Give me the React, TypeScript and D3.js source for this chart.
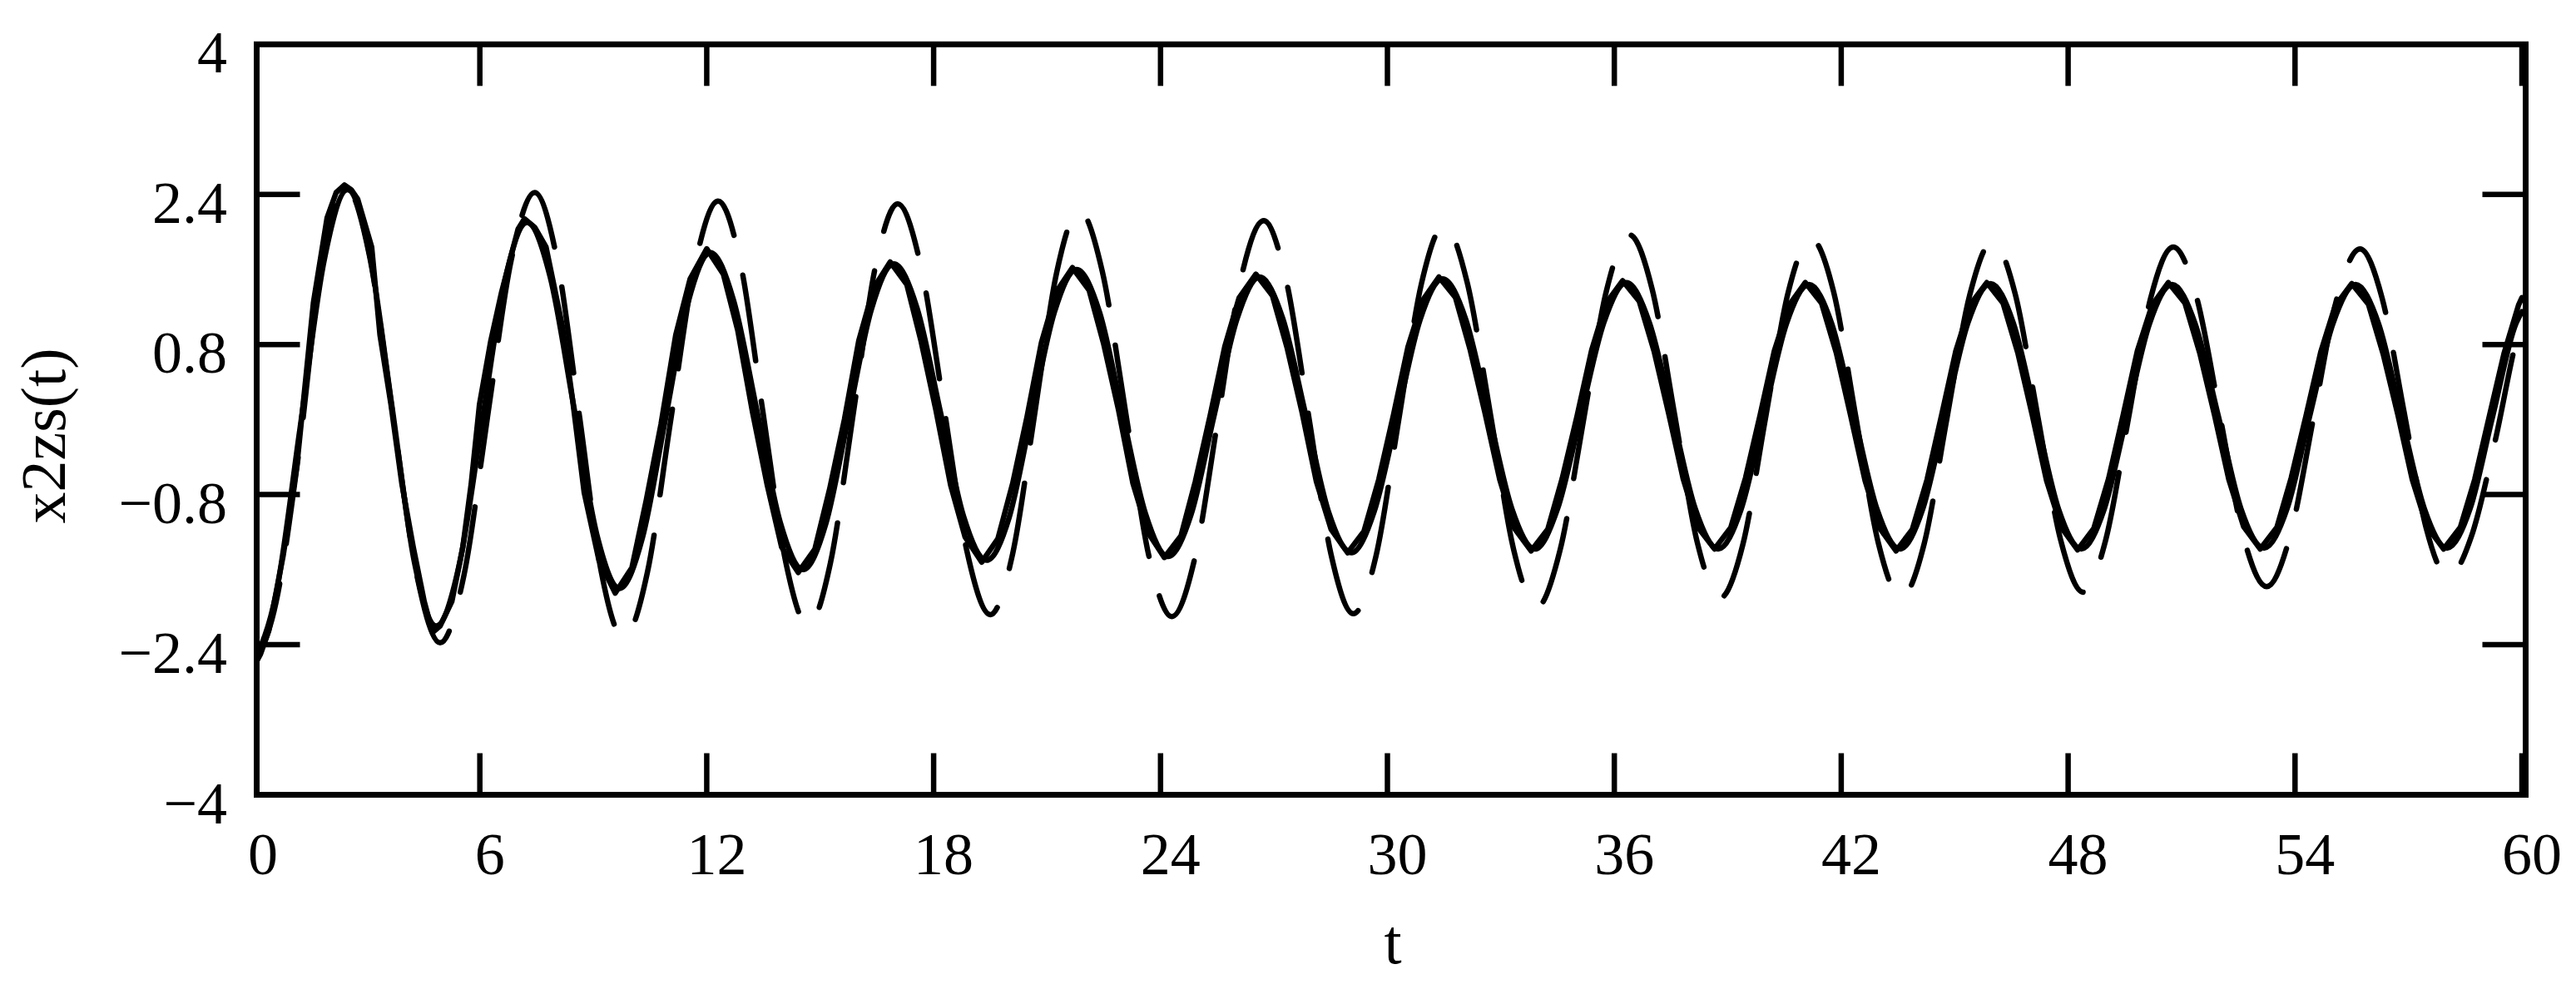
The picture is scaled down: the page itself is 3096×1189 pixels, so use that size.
import React from 'react';
import * as d3 from 'd3';

// Axis ticks
const xTicks = [0, 6, 12, 18, 24, 30, 36, 42, 48, 54, 60];
const yTicks = [-4, -2.4, -0.8, 0.8, 2.4, 4];
const yTickLabels = ['\u22124', '\u22122.4', '\u22120.8', '0.8', '2.4', '4'];

// Series A (solid, jagged main trace)
const tA = [0,0.2,0.42,0.8,1.16,1.4,1.6,1.96,2.2,2.42,2.6,2.77,3.14,3.36,3.65,3.94,4.24,4.53,4.75,4.95,5.26,5.55,5.77,5.99,6.29,6.57,7.01,7.18,7.45,7.75,8.19,8.45,8.76,9.15,9.58,10.02,10.4,10.79,11.18,11.56,12.0,12.44,12.82,13.21,13.6,13.98,14.42,14.86,15.25,15.64,16.02,16.41,16.85,17.29,17.67,18.06,18.45,18.83,19.27,19.7,20.09,20.47,20.85,21.24,21.67,22.11,22.5,22.89,23.27,23.66,24.1,24.54,24.92,25.31,25.7,26.08,26.52,26.96,27.35,27.74,28.12,28.51,28.95,29.38,29.77,30.16,30.54,30.93,31.36,31.8,32.19,32.58,32.97,33.36,33.8,34.24,34.62,35.01,35.4,35.78,36.22,36.66,37.05,37.44,37.82,38.21,38.65,39.08,39.47,39.85,40.23,40.62,41.05,41.48,41.87,42.25,42.63,43.02,43.45,43.88,44.27,44.65,45.03,45.42,45.85,46.28,46.67,47.05,47.43,47.82,48.25,48.68,49.07,49.45,49.83,50.22,50.65,51.09,51.48,51.87,52.25,52.64,53.08,53.52,53.9,54.29,54.68,55.06,55.5,55.94,56.33,56.72,57.1,57.49,57.93,58.37,58.75,59.14,59.53,59.91,60];
const vA = [-2.65,-2.5,-2.25,-1.45,-0.5,0.45,1.25,2.15,2.42,2.5,2.45,2.35,1.84,0.9,0.16,-0.69,-1.36,-1.94,-2.27,-2.2,-1.94,-1.36,-0.69,0.16,0.84,1.35,2.03,2.14,2.05,1.84,0.98,0.22,-0.78,-1.5,-1.85,-1.58,-0.86,-0.05,0.9,1.5,1.82,1.55,0.95,0.08,-0.7,-1.36,-1.63,-1.38,-0.74,0.0,0.84,1.4,1.68,1.44,0.83,0.1,-0.7,-1.25,-1.52,-1.27,-0.68,0.03,0.82,1.36,1.62,1.38,0.8,0.1,-0.68,-1.2,-1.47,-1.24,-0.66,0.04,0.78,1.3,1.55,1.32,0.76,0.08,-0.66,-1.17,-1.42,-1.19,-0.64,0.05,0.77,1.27,1.52,1.3,0.74,0.07,-0.64,-1.16,-1.4,-1.17,-0.63,0.03,0.74,1.24,1.48,1.26,0.73,0.06,-0.63,-1.15,-1.38,-1.15,-0.62,0.04,0.73,1.22,1.46,1.24,0.71,0.04,-0.65,-1.16,-1.4,-1.17,-0.64,0.04,0.73,1.23,1.46,1.24,0.71,0.05,-0.65,-1.15,-1.39,-1.16,-0.63,0.04,0.73,1.22,1.46,1.24,0.71,0.05,-0.64,-1.14,-1.38,-1.15,-0.62,0.04,0.72,1.21,1.45,1.23,0.7,0.05,-0.64,-1.14,-1.38,-1.15,-0.64,0.04,0.71,1.22,1.3];

// Series B (solid, second trace)
const tB = [0,0.62,1.25,1.88,2.5,3.09,3.68,4.26,4.85,5.45,6.05,6.65,7.25,7.86,8.48,9.09,9.7,10.3,10.9,11.5,12.1,12.71,13.33,13.94,14.55,15.15,15.75,16.35,16.95,17.56,18.18,18.79,19.4,20.0,20.59,21.19,21.78,22.39,22.99,23.6,24.2,24.81,25.41,26.02,26.62,27.23,27.84,28.44,29.05,29.65,30.26,30.86,31.46,32.07,32.68,33.29,33.9,34.5,35.11,35.72,36.32,36.93,37.54,38.14,38.75,39.35,39.95,40.55,41.15,41.75,42.35,42.95,43.55,44.15,44.75,45.35,45.95,46.55,47.15,47.75,48.35,48.95,49.55,50.15,50.75,51.36,51.97,52.57,53.18,53.79,54.39,55.0,55.6,56.21,56.81,57.42,58.02,58.63,59.23,59.84,60];
const vB = [-2.6,-1.84,-0.08,1.69,2.45,1.75,0.13,-1.5,-2.2,-1.56,-0.05,1.46,2.1,1.52,0.15,-1.22,-1.8,-1.26,-0.01,1.24,1.78,1.27,0.09,-1.09,-1.6,-1.11,0.03,1.17,1.66,1.19,0.08,-1.03,-1.5,-1.04,0.05,1.14,1.6,1.14,0.07,-1.0,-1.46,-1.01,0.03,1.07,1.52,1.08,0.05,-0.98,-1.42,-0.98,0.04,1.06,1.5,1.07,0.06,-0.95,-1.38,-0.95,0.04,1.03,1.46,1.03,0.04,-0.95,-1.38,-0.96,0.03,1.02,1.44,1.02,0.03,-0.96,-1.38,-0.96,0.04,1.03,1.45,1.03,0.04,-0.96,-1.38,-0.96,0.03,1.02,1.44,1.02,0.04,-0.95,-1.37,-0.95,0.04,1.02,1.44,1.02,0.04,-0.95,-1.37,-0.95,0.04,1.02,1.15];

// Series C (dashed trace)
const tC = [0,0.61,1.23,1.84,2.45,3.08,3.7,4.33,4.95,5.58,6.2,6.83,7.45,8.04,8.63,9.21,9.8,10.43,11.05,11.68,12.3,12.9,13.49,14.09,14.68,15.27,15.87,16.46,17.05,17.66,18.28,18.89,19.5,20.09,20.68,21.26,21.85,22.46,23.08,23.69,24.3,24.91,25.52,26.12,26.73,27.32,27.92,28.51,29.1,29.7,30.3,30.9,31.5,32.11,32.73,33.34,33.95,34.56,35.18,35.79,36.4,37.0,37.6,38.2,38.8,39.4,40.0,40.6,41.2,41.8,42.39,42.99,43.58,44.19,44.79,45.4,46.0,46.6,47.2,47.8,48.4,48.99,49.59,50.18,50.78,51.4,52.02,52.63,53.25,53.87,54.49,55.1,55.72,56.3,56.89,57.47,58.05,58.66,59.28,59.89,60];
const vC = [-2.62,-1.95,-0.3,1.75,2.48,1.75,0.05,-1.65,-2.38,-1.66,0.02,1.7,2.42,1.71,0.05,-1.62,-2.33,-1.63,0.0,1.63,2.33,1.65,0.07,-1.52,-2.2,-1.53,0.05,1.63,2.3,1.64,0.11,-1.42,-2.08,-1.43,0.08,1.58,2.23,1.58,0.07,-1.45,-2.1,-1.47,0.01,1.49,2.12,1.49,0.03,-1.44,-2.07,-1.45,0.0,1.45,2.07,1.46,0.04,-1.39,-2.0,-1.4,-0.02,1.37,1.97,1.39,0.04,-1.32,-1.9,-1.33,0.02,1.36,1.93,1.36,0.02,-1.33,-1.9,-1.33,0.0,1.33,1.9,1.34,0.03,-1.28,-1.84,-1.29,0.0,1.29,1.84,1.3,0.03,-1.24,-1.78,-1.24,0.02,1.28,1.82,1.3,0.07,-1.16,-1.68,-1.25,-0.25,0.9,1.05];

const W = 3096;
const H = 1189;
const FONT = '"Liberation Serif", "Times New Roman", serif';

export default function App() {
  const x = d3.scaleLinear().domain([0, 60]).range([304, 3031]);
  const y = d3.scaleLinear().domain([-4, 4]).range([955.5, 53.3]);
  const frame = { l: 308.5, r: 3035.5, t: 53.3, b: 955.5 };

  const mk = (ts: number[], vs: number[], curve: any) =>
    d3.line<number>()
      .x((_, i) => x(ts[i]))
      .y((v) => y(v))
      .curve(curve)(vs) || '';

  const pathA = mk(tA, vA, d3.curveLinear);
  const pathB = mk(tB, vB, d3.curveMonotoneX);
  const pathC = mk(tC, vC, d3.curveMonotoneX);

  const tickLen = 50;
  const tickW = 6.5;

  return (
    <svg width={W} height={H} viewBox={`0 0 ${W} ${H}`}
      style={{ position: 'absolute', left: 0, top: 0, display: 'block', background: '#fff' }}>
      <defs>
        <clipPath id="plotclip">
          <rect x={frame.l} y={frame.t} width={frame.r - frame.l} height={frame.b - frame.t} />
        </clipPath>
      </defs>
      <rect x={0} y={0} width={W} height={H} fill="#fff" />

      <g clipPath="url(#plotclip)" fill="none" stroke="#000" strokeLinejoin="round">
        <path d={pathC} strokeWidth={6.5} strokeDasharray="104 49" strokeLinecap="round" />
        <path d={pathB} strokeWidth={6.5} strokeLinecap="round" />
        <path d={pathA} strokeWidth={6.5} strokeLinecap="round" />
      </g>

      {/* ticks */}
      <g stroke="#000" strokeWidth={tickW}>
        {xTicks.filter((t) => t > 0).map((t) => (
          <g key={'xt' + t}>
            <line x1={x(t)} x2={x(t)} y1={frame.b} y2={frame.b - tickLen} />
            <line x1={x(t)} x2={x(t)} y1={frame.t} y2={frame.t + tickLen} />
          </g>
        ))}
        {yTicks.filter((v) => v > -4 && v < 4).map((v) => (
          <g key={'yt' + v}>
            <line x1={frame.l} x2={frame.l + tickLen + 2} y1={y(v)} y2={y(v)} />
            <line x1={frame.r} x2={frame.r - tickLen - 2} y1={y(v)} y2={y(v)} />
          </g>
        ))}
      </g>

      {/* frame */}
      <rect x={frame.l} y={frame.t} width={frame.r - frame.l} height={frame.b - frame.t}
        fill="none" stroke="#000" strokeWidth={7} />

      {/* tick labels */}
      <g fontFamily={FONT} fontSize={72} fill="#000">
        {xTicks.map((t) => (
          <text key={'xl' + t} x={x(t) + 12} y={1051} textAnchor="middle">{t}</text>
        ))}
        {yTicks.map((v, i) => (
          <text key={'yl' + v} x={273} y={y(v) + 34} textAnchor="end">{yTickLabels[i]}</text>
        ))}
      </g>

      {/* axis labels */}
      <text x={1674} y={1158} textAnchor="middle" fontFamily={FONT} fontSize={76} fill="#000">t</text>
      <text transform={`translate(78,524) rotate(-90)`} textAnchor="middle" fontFamily={FONT} fontSize={76} fill="#000">x2zs(t)</text>
    </svg>
  );
}
